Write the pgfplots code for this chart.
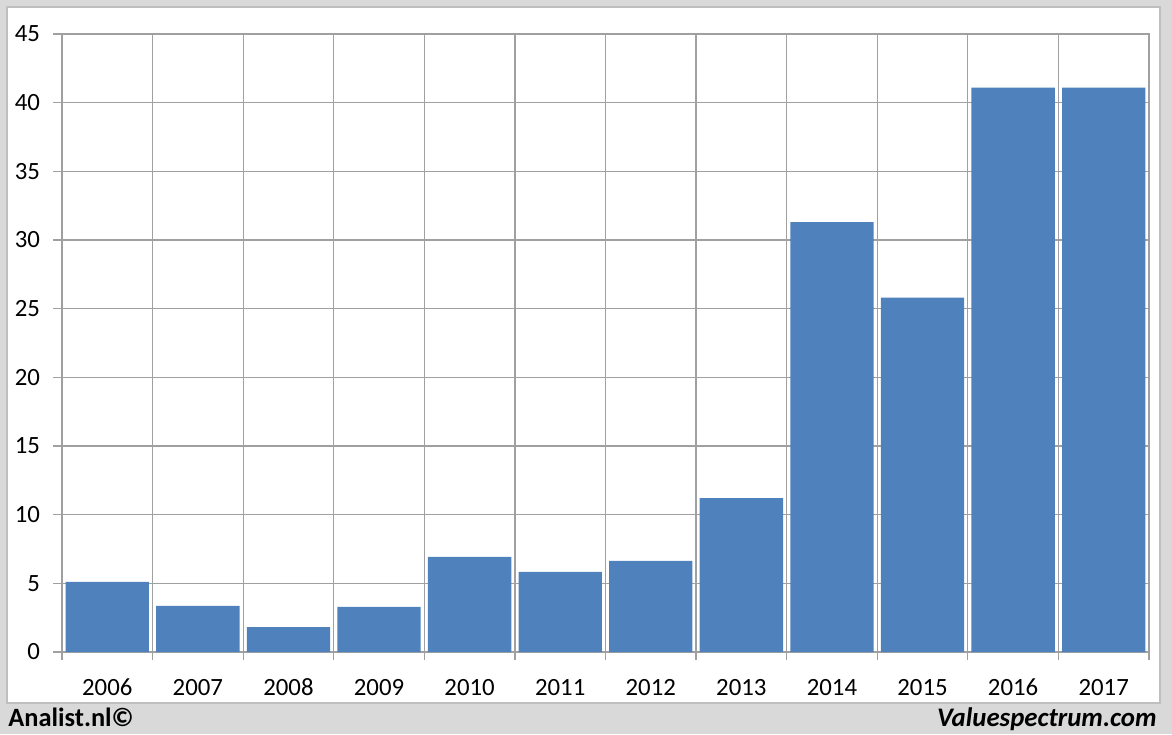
\documentclass[border=0pt]{standalone}
\usepackage{fontspec}
\setmainfont{Carlito}
\usepackage{pgfplots}
\pgfplotsset{compat=1.18}
\definecolor{barblue}{HTML}{4F81BD}
\definecolor{bggray}{HTML}{D9D9D9}
\definecolor{gridgray}{HTML}{A0A0A0}
\definecolor{panelborder}{HTML}{BFBFBF}
\begin{document}
\begin{tikzpicture}[x=1pt,y=1pt]
% background (1px = 0.5pt; origin at axis lower-left = pixel (62,652))
\fill[bggray] (-31,-41) rectangle (555,326);
\filldraw[fill=white,draw=panelborder,line width=0.6pt] (-27.5,-25.5) rectangle (549,322.5);
\begin{axis}[
  at={(0,0)}, anchor=south west,
  scale only axis, width=543.5pt, height=309pt,
  ybar, bar width=0.92, bar shift=0pt,
  xmin=-0.5, xmax=11.5, ymin=0, ymax=45,
  ytick={0,5,...,45},
  xtick={0,...,11},
  xticklabels={2006,2007,2008,2009,2010,2011,2012,2013,2014,2015,2016,2017},
  minor xtick={-0.5,0.5,...,11.5},
  xtick pos=bottom, ytick pos=left,
  xminorgrids=true, ymajorgrids=true, xmajorgrids=false,
  major x tick style={draw=none},
  minor x tick style={draw=gridgray, line width=0.6pt},
  y tick style={draw=gridgray, line width=0.6pt},
  tick align=outside,
  minor tick length=4pt, major tick length=4.5pt,
  grid style={gridgray, line width=0.6pt},
  minor grid style={gridgray, line width=0.6pt},
  axis line style={gridgray, line width=0.6pt},
  tick label style={font=\fontsize{12.4}{14}\selectfont, text=black},
  /pgf/number format/assume math mode=true,
  xticklabel style={text height=8.2pt, text depth=0pt, yshift=-5.3pt},
  yticklabel style={xshift=-3pt},
]
\addplot[fill=barblue, draw=none] coordinates {
(0,5.1) (1,3.35) (2,1.82) (3,3.28) (4,6.92) (5,5.83)
(6,6.63) (7,11.2) (8,31.3) (9,25.8) (10,41.1) (11,41.1)};
\end{axis}
\node[anchor=base west, inner sep=0pt, font=\fontsize{13.2}{15}\selectfont\bfseries] at (-27,-37) {Analist.nl©};
\node[anchor=base east, inner sep=0pt, font=\fontsize{13.4}{15}\selectfont\bfseries\itshape] at (547.5,-37) {Valuespectrum.com};
\end{tikzpicture}
\end{document}
